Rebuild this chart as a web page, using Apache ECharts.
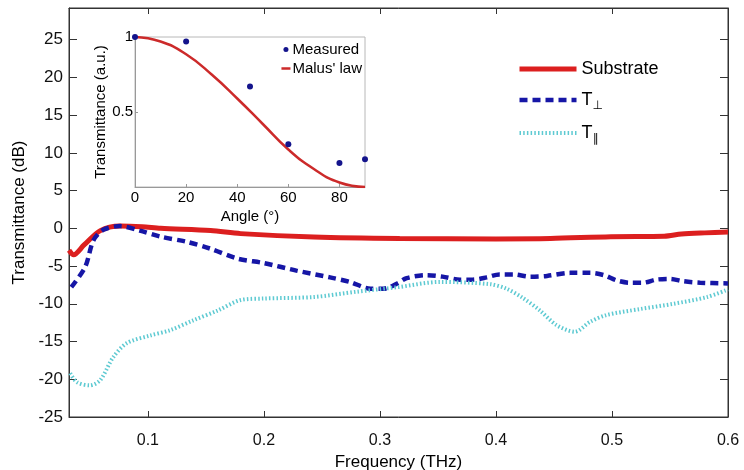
<!DOCTYPE html>
<html>
<head>
<meta charset="utf-8">
<script src="https://cdn.jsdelivr.net/npm/echarts@6/dist/echarts.min.js"></script>
<style>html,body{margin:0;padding:0;background:#fff}#c{width:744px;height:470px}</style>
</head>
<body>
<div id="c"></div>
<script>
// ---- main chart data ----
var freqSub = [0.032, 0.036, 0.045, 0.059, 0.076, 0.095, 0.111, 0.154, 0.18, 0.243, 0.317, 0.4, 0.447, 0.499, 0.545, 0.56, 0.58, 0.6];
var substrate = [-2.9, -3.5, -2.2, -0.3, 0.3, 0.2, 0.0, -0.3, -0.7, -1.15, -1.35, -1.4, -1.35, -1.1, -1.05, -0.75, -0.6, -0.5];

var freqPerp = [0.034, 0.046, 0.053, 0.0615, 0.076, 0.093, 0.111, 0.134, 0.154, 0.177, 0.2, 0.228, 0.257, 0.274, 0.292, 0.303, 0.315, 0.323, 0.34, 0.354, 0.369, 0.38, 0.392, 0.403, 0.415, 0.429, 0.444, 0.464, 0.481, 0.493, 0.504, 0.515, 0.527, 0.538, 0.55, 0.561, 0.576, 0.6];
var tPerp = [-7.8, -5.1, -1.6, -0.2, 0.3, -0.3, -1.1, -1.8, -2.7, -4.0, -4.6, -5.6, -6.5, -7.1, -8.0, -8.0, -7.3, -6.6, -6.2, -6.4, -6.8, -6.8, -6.5, -6.1, -6.1, -6.4, -6.3, -5.9, -5.9, -6.2, -6.9, -7.2, -7.2, -6.8, -6.7, -7.0, -7.2, -7.3];

var freqPar = [0.033, 0.039, 0.05, 0.059, 0.07, 0.082, 0.102, 0.119, 0.139, 0.16, 0.18, 0.2, 0.243, 0.28, 0.315, 0.352, 0.395, 0.409, 0.423, 0.438, 0.452, 0.468, 0.481, 0.495, 0.524, 0.553, 0.582, 0.6];
var tPar = [-19.2, -20.4, -20.8, -20.1, -17.1, -15.2, -14.2, -13.5, -12.2, -10.9, -9.5, -9.3, -9.1, -8.4, -7.8, -7.1, -7.4, -8.0, -9.2, -10.9, -12.8, -13.7, -12.4, -11.5, -10.7, -10.0, -9.1, -8.1];

var seriesNames = ['Substrate', 'T\u22A5', 'T\u2225'];

// ---- inset data ----
var measAngle = [0, 20, 45, 60, 80, 90];
var measVal = [1.0, 0.97, 0.67, 0.285, 0.16, 0.185];
var malusAngle = [0, 10, 20, 30, 40, 50, 60, 70, 80, 90];
var malusVal = [1.0, 0.97, 0.885, 0.75, 0.59, 0.42, 0.25, 0.12, 0.03, 0.0];

function zip(a, b) { return a.map(function (v, i) { return [v, b[i]]; }); }

var FF = '"Liberation Sans", Arial, sans-serif';
var chart = echarts.init(document.getElementById('c'), null, {renderer: 'canvas'});

var option = {
  animation: false,
  backgroundColor: '#fff',
  textStyle: {fontFamily: FF},
  grid: [
    {left: 69, right: 16, top: 8, bottom: 53, show: true, borderColor: '#333', borderWidth: 1, containLabel: false, outerBoundsMode: 'none'},
    {left: 135, top: 37, width: 230, height: 150, show: true, borderColor: '#b8b8b8', borderWidth: 1, backgroundColor: '#fff', containLabel: false, outerBoundsMode: 'none'}
  ],
  legend: [
    {
      data: seriesNames,
      orient: 'vertical', left: 512, top: 54,
      itemWidth: 57, itemHeight: 14, itemGap: 11,
      itemStyle: {opacity: 0},
      lineStyle: {width: 'inherit'},
      textStyle: {fontFamily: FF, fontSize: 18, color: '#000', lineHeight: 20,
        rich: {
          t: {fontFamily: FF, fontSize: 18, color: '#000'},
          s: {fontFamily: '"DejaVu Sans", sans-serif', fontSize: 12, color: '#000', padding: [12, 0, 0, 0]}
        }},
      formatter: function (n) {
        if (n === 'Substrate') return 'Substrate';
        return '{t|T}{s|' + n.slice(1) + '}';
      }
    },
    {
      data: [{name: 'Measured', icon: 'circle'}, {name: "Malus' law", itemStyle: {opacity: 0}}],
      orient: 'vertical', right: 382, top: 42,
      align: 'left',
      itemWidth: 9, itemHeight: 5, itemGap: 4, padding: 0,
      lineStyle: {width: 'inherit'},
      textStyle: {fontFamily: FF, fontSize: 15, color: '#000', lineHeight: 15, padding: [0, 0, 0, -3]}
    }
  ],
  xAxis: [
    {
      type: 'value', gridIndex: 0, min: 0.032, max: 0.6, splitNumber: 5,
      name: 'Frequency (THz)', nameLocation: 'middle', nameGap: 35,
      nameTextStyle: {fontFamily: FF, fontSize: 17, color: '#000'},
      axisLine: {onZero: false, lineStyle: {color: '#333', width: 1}},
      axisTick: {inside: true, length: 6, lineStyle: {color: '#333'}},
      axisLabel: {fontFamily: FF, fontSize: 16, color: '#111', margin: 16, showMinLabel: false,
        formatter: function (v) { return Math.abs(v * 10 - Math.round(v * 10)) < 1e-6 ? v.toFixed(1) : ''; }},
      splitLine: {show: false}
    },
    {
      type: 'value', gridIndex: 0, position: 'top', min: 0.032, max: 0.6, splitNumber: 5,
      axisLine: {onZero: false, lineStyle: {color: '#333', width: 1}},
      axisTick: {inside: true, length: 6, lineStyle: {color: '#333'}},
      axisLabel: {show: false}, splitLine: {show: false}
    },
    {
      type: 'value', gridIndex: 1, min: 0, max: 90, interval: 20,
      name: 'Angle (\u00B0)', nameLocation: 'middle', nameGap: 22,
      nameTextStyle: {fontFamily: FF, fontSize: 15, color: '#000'},
      axisLine: {onZero: false, lineStyle: {color: '#999', width: 1}},
      axisTick: {inside: true, length: 3, lineStyle: {color: '#999'}},
      axisLabel: {fontFamily: FF, fontSize: 15, color: '#000', margin: 3, showMaxLabel: false},
      splitLine: {show: false}
    }
  ],
  yAxis: [
    {
      type: 'value', gridIndex: 0, min: -25, max: 29.2, interval: 5,
      name: 'Transmittance (dB)', nameLocation: 'middle', nameGap: 38,
      nameTextStyle: {fontFamily: FF, fontSize: 17, color: '#000'},
      axisLine: {onZero: false, lineStyle: {color: '#333', width: 1}},
      axisTick: {inside: true, length: 8, lineStyle: {color: '#333'}},
      axisLabel: {fontFamily: FF, fontSize: 17, color: '#111', margin: 6, showMaxLabel: false,
        formatter: function (v) { return Math.abs(v % 5) < 1e-6 ? String(v) : ''; }},
      splitLine: {show: false}
    },
    {
      type: 'value', gridIndex: 0, position: 'right', min: -25, max: 29.2, interval: 5,
      axisLine: {onZero: false, lineStyle: {color: '#333', width: 1}},
      axisTick: {inside: true, length: 8, lineStyle: {color: '#333'}},
      axisLabel: {show: false}, splitLine: {show: false}
    },
    {
      type: 'value', gridIndex: 1, min: 0, max: 1, interval: 0.5,
      name: 'Transmittance (a.u.)', nameLocation: 'middle', nameGap: 25,
      nameTextStyle: {fontFamily: FF, fontSize: 15, color: '#000'},
      axisLine: {onZero: false, lineStyle: {color: '#999', width: 1}},
      axisTick: {inside: true, length: 3, lineStyle: {color: '#999'}},
      axisLabel: {fontFamily: FF, fontSize: 15, color: '#000', margin: 2, showMinLabel: false},
      splitLine: {show: false}
    }
  ],
  series: [
    {
      name: seriesNames[0], type: 'line', xAxisIndex: 0, yAxisIndex: 0,
      data: zip(freqSub, substrate), smooth: 0.3, symbol: 'none',
      lineStyle: {color: '#dc1f1f', width: 5}, itemStyle: {color: '#dc1f1f'}, z: 2
    },
    {
      name: seriesNames[1], type: 'line', xAxisIndex: 0, yAxisIndex: 0,
      data: zip(freqPerp, tPerp), smooth: 0.3, symbol: 'none',
      lineStyle: {color: '#1616a6', width: 4.5, type: [8, 5]}, itemStyle: {color: '#1616a6'}, z: 3
    },
    {
      name: seriesNames[2], type: 'line', xAxisIndex: 0, yAxisIndex: 0,
      data: zip(freqPar, tPar), smooth: 0.3, symbol: 'none',
      lineStyle: {color: '#5ecad2', width: 4, type: [1.5, 2.2]}, itemStyle: {color: '#5ecad2'}, z: 4
    },
    {
      name: "Malus' law", type: 'line', xAxisIndex: 2, yAxisIndex: 2,
      data: zip(malusAngle, malusVal), smooth: true, symbol: 'none',
      lineStyle: {color: '#cc2a2a', width: 2.5}, itemStyle: {color: '#cc2a2a'}, z: 5
    },
    {
      name: 'Measured', type: 'scatter', xAxisIndex: 2, yAxisIndex: 2,
      data: zip(measAngle, measVal), symbol: 'circle', symbolSize: 6,
      itemStyle: {color: '#14148c', opacity: 1}, z: 6
    }
  ]
};
chart.setOption(option);
</script>
</body>
</html>
